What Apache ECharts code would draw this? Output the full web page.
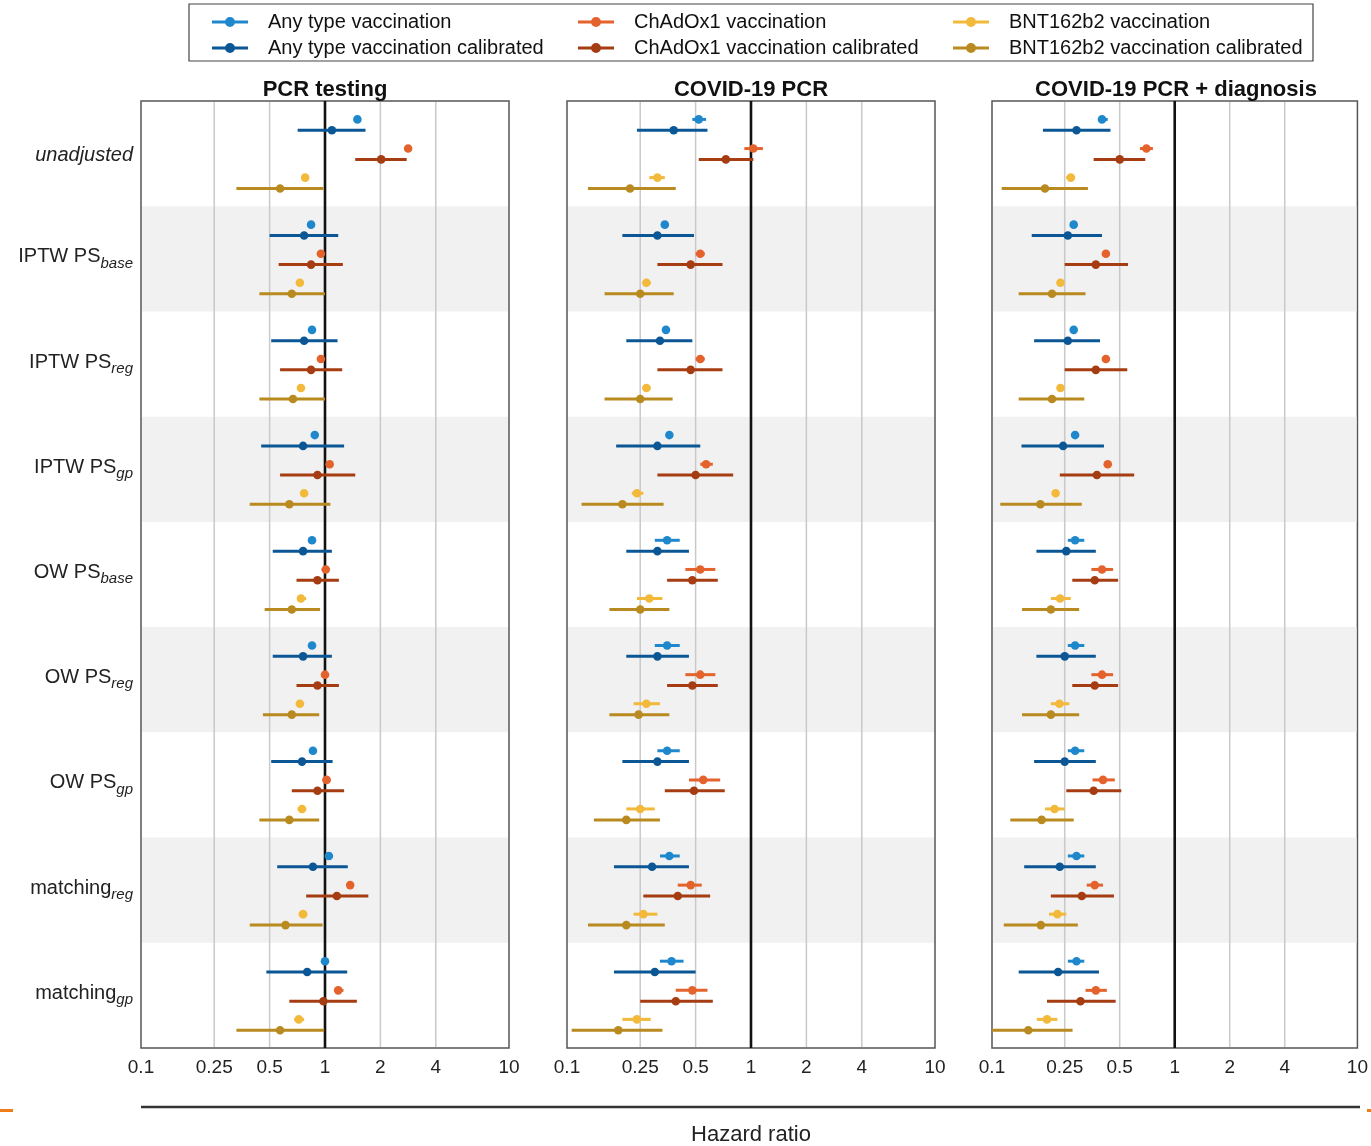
<!DOCTYPE html>
<html>
<head>
<meta charset="utf-8">
<script src="https://cdn.jsdelivr.net/npm/echarts@6/dist/echarts.min.js"></script>
<style>
  html, body { margin: 0; padding: 0; background: #fff; }
  #chart { width: 1371px; height: 1146px; }
</style>
</head>
<body>
<div id="chart"></div>
<script>
// Estimation methods (rows) — main text and italic subscript
const methodNames = ['unadjusted', 'IPTW PS', 'IPTW PS', 'IPTW PS', 'OW PS', 'OW PS', 'OW PS', 'matching', 'matching'];
const methodSubs  = ['', 'base', 'reg', 'gp', 'base', 'reg', 'gp', 'reg', 'gp'];

const panelTitles = ['PCR testing', 'COVID-19 PCR', 'COVID-19 PCR + diagnosis'];

const seriesNames = [
  'Any type vaccination', 'Any type vaccination calibrated',
  'ChAdOx1 vaccination', 'ChAdOx1 vaccination calibrated',
  'BNT162b2 vaccination', 'BNT162b2 vaccination calibrated'
];
const seriesColors = ['#1f88cc', '#0b5796', '#e4622c', '#a63c12', '#f2b93b', '#b98a1f'];

// Hazard-ratio axis
const tickValues = [0.1, 0.25, 0.5, 1, 2, 4, 10];
const tickLabels = ['0.1', '0.25', '0.5', '1', '2', '4', '10'];
const gridValues = [0.25, 0.5, 2, 4];
const refValue = 1;

// Hazard ratios as [estimate, lower CI, upper CI], one entry per method row
// Outcome: PCR testing
const pcrAny      = [[1.50,1.46,1.54],[0.84,0.82,0.86],[0.85,0.83,0.87],[0.88,0.86,0.90],[0.85,0.82,0.88],[0.85,0.82,0.88],[0.86,0.83,0.89],[1.05,1.02,1.08],[1.00,0.96,1.04]];
const pcrAnyCal   = [[1.09,0.71,1.66],[0.77,0.50,1.18],[0.77,0.51,1.17],[0.76,0.45,1.27],[0.76,0.52,1.09],[0.76,0.52,1.09],[0.75,0.51,1.10],[0.86,0.55,1.33],[0.80,0.48,1.32]];
const pcrChad     = [[2.83,2.76,2.90],[0.95,0.93,0.97],[0.95,0.93,0.97],[1.06,1.03,1.09],[1.01,0.96,1.06],[1.00,0.96,1.05],[1.02,0.97,1.07],[1.37,1.32,1.42],[1.18,1.12,1.26]];
const pcrChadCal  = [[2.02,1.46,2.78],[0.84,0.56,1.25],[0.84,0.57,1.24],[0.91,0.57,1.46],[0.91,0.70,1.19],[0.91,0.70,1.19],[0.91,0.66,1.27],[1.16,0.79,1.72],[0.98,0.64,1.49]];
const pcrBnt      = [[0.78,0.76,0.80],[0.73,0.71,0.75],[0.74,0.72,0.76],[0.77,0.75,0.79],[0.74,0.71,0.79],[0.73,0.70,0.77],[0.75,0.71,0.79],[0.76,0.72,0.80],[0.72,0.68,0.77]];
const pcrBntCal   = [[0.57,0.33,0.98],[0.66,0.44,1.00],[0.67,0.44,1.00],[0.64,0.39,1.07],[0.66,0.47,0.94],[0.66,0.46,0.93],[0.64,0.44,0.93],[0.61,0.39,0.97],[0.57,0.33,0.99]];

// Outcome: COVID-19 PCR
const covAny      = [[0.52,0.48,0.57],[0.34,0.33,0.355],[0.345,0.335,0.36],[0.36,0.345,0.375],[0.35,0.30,0.41],[0.35,0.30,0.41],[0.35,0.31,0.41],[0.36,0.32,0.41],[0.37,0.32,0.43]];
const covAnyCal   = [[0.38,0.24,0.58],[0.31,0.20,0.49],[0.32,0.21,0.48],[0.31,0.185,0.53],[0.31,0.21,0.46],[0.31,0.21,0.46],[0.31,0.20,0.46],[0.29,0.18,0.46],[0.30,0.18,0.50]];
const covChad     = [[1.03,0.92,1.16],[0.53,0.50,0.56],[0.53,0.50,0.56],[0.57,0.53,0.62],[0.53,0.44,0.64],[0.53,0.44,0.64],[0.55,0.46,0.68],[0.47,0.40,0.54],[0.48,0.39,0.58]];
const covChadCal  = [[0.73,0.52,1.03],[0.47,0.31,0.70],[0.47,0.31,0.70],[0.50,0.31,0.80],[0.48,0.35,0.66],[0.48,0.35,0.66],[0.49,0.34,0.72],[0.40,0.26,0.60],[0.39,0.25,0.62]];
const covBnt      = [[0.31,0.28,0.34],[0.27,0.26,0.285],[0.27,0.26,0.285],[0.24,0.225,0.26],[0.28,0.24,0.33],[0.27,0.23,0.32],[0.25,0.21,0.30],[0.26,0.23,0.31],[0.24,0.20,0.285]];
const covBntCal   = [[0.22,0.13,0.39],[0.25,0.16,0.38],[0.25,0.16,0.375],[0.20,0.12,0.335],[0.25,0.17,0.36],[0.245,0.17,0.36],[0.21,0.14,0.32],[0.21,0.13,0.34],[0.19,0.106,0.33]];

// Outcome: COVID-19 PCR + diagnosis
const diagAny     = [[0.40,0.38,0.43],[0.28,0.27,0.29],[0.28,0.27,0.29],[0.285,0.275,0.295],[0.285,0.26,0.32],[0.285,0.26,0.32],[0.285,0.26,0.32],[0.29,0.26,0.32],[0.29,0.26,0.32]];
const diagAnyCal  = [[0.29,0.19,0.445],[0.26,0.165,0.40],[0.26,0.17,0.39],[0.245,0.145,0.41],[0.255,0.175,0.37],[0.25,0.175,0.37],[0.25,0.17,0.37],[0.235,0.15,0.37],[0.23,0.14,0.385]];
const diagChad    = [[0.70,0.645,0.76],[0.42,0.405,0.44],[0.42,0.405,0.44],[0.43,0.415,0.45],[0.40,0.35,0.46],[0.40,0.35,0.46],[0.405,0.355,0.47],[0.365,0.33,0.405],[0.37,0.325,0.425]];
const diagChadCal = [[0.50,0.36,0.69],[0.37,0.25,0.555],[0.37,0.25,0.55],[0.375,0.235,0.60],[0.365,0.275,0.49],[0.365,0.275,0.49],[0.36,0.255,0.51],[0.31,0.21,0.465],[0.305,0.20,0.475]];
const diagBnt     = [[0.27,0.255,0.285],[0.237,0.228,0.246],[0.237,0.228,0.246],[0.223,0.215,0.232],[0.236,0.21,0.27],[0.234,0.21,0.265],[0.22,0.195,0.25],[0.228,0.205,0.255],[0.20,0.176,0.228]];
const diagBntCal  = [[0.195,0.113,0.335],[0.213,0.14,0.325],[0.213,0.14,0.32],[0.184,0.111,0.31],[0.21,0.146,0.30],[0.21,0.146,0.30],[0.187,0.126,0.28],[0.185,0.116,0.295],[0.158,0.10,0.276]];

const panelData = [
  [pcrAny, pcrAnyCal, pcrChad, pcrChadCal, pcrBnt, pcrBntCal],
  [covAny, covAnyCal, covChad, covChadCal, covBnt, covBntCal],
  [diagAny, diagAnyCal, diagChad, diagChadCal, diagBnt, diagBntCal]
];

// ---- layout ----
const FONT = '"Liberation Sans", Arial, Helvetica, sans-serif';
const panelLeft = [141, 567, 992];
const panelWidth = 368;
const plotTop = 101, plotHeight = 947;
// vertical offset of each series inside a method row (row units)
const rowOffsets = [-0.325, -0.222, -0.048, 0.055, 0.228, 0.332];

const chart = echarts.init(document.getElementById('chart'), null, { renderer: 'canvas' });

const grids = [], xAxes = [], yAxes = [], series = [];

panelLeft.forEach((left, p) => {
  grids.push({
    left: left, top: plotTop, width: panelWidth, height: plotHeight,
    show: true, borderColor: '#555', borderWidth: 1.5, backgroundColor: 'transparent',
    containLabel: false
  });
  xAxes.push({
    type: 'log', logBase: 10, min: 0.1, max: 10, gridIndex: p,
    axisLine: { show: false }, axisTick: { show: false }, splitLine: { show: false },
    minorTick: { show: false }, minorSplitLine: { show: false },
    axisLabel: {
      customValues: tickValues,
      formatter: (v) => {
        const i = tickValues.findIndex(t => Math.abs(t - v) < 1e-9);
        return i >= 0 ? tickLabels[i] : '';
      },
      fontSize: 19, color: '#222', fontFamily: FONT, margin: 10,
      showMinLabel: true, showMaxLabel: true
    }
  });
  yAxes.push({
    type: 'value', min: 0.5, max: 9.5, inverse: true, gridIndex: p,
    axisLine: { show: false }, axisTick: { show: false }, splitLine: { show: false },
    axisLabel: {
      show: p === 0,
      customValues: methodNames.map((_, i) => i + 1),
      margin: 8,
      formatter: (v) => {
        const i = Math.round(v) - 1;
        if (i < 0 || i >= methodNames.length) return '';
        return methodSubs[i] ? '{m|' + methodNames[i] + '}{s|' + methodSubs[i] + '}' : '{u|' + methodNames[i] + '}';
      },
      rich: {
        m: { fontSize: 20, fontFamily: FONT, color: '#222', lineHeight: 24, padding: [0, 0, 8, 0], verticalAlign: 'top' },
        s: { fontSize: 15, fontFamily: FONT, fontStyle: 'italic', color: '#222', lineHeight: 16, verticalAlign: 'bottom' },
        u: { fontSize: 20, fontFamily: FONT, fontStyle: 'italic', color: '#222', lineHeight: 24, padding: [4, 0, 0, 0] }
      }
    }
  });

  // alternating row shading
  series.push({
    type: 'custom', xAxisIndex: p, yAxisIndex: p, silent: true, z: 1,
    encode: { x: 0, y: 1 },
    data: methodNames.map((_, i) => [1, i + 1]).filter(d => d[1] % 2 === 0),
    renderItem: (params, api) => {
      const cs = params.coordSys;
      const r = api.value(1);
      const y1 = api.coord([1, r - 0.5])[1];
      const y2 = api.coord([1, r + 0.5])[1];
      return {
        type: 'rect',
        shape: { x: cs.x + 1, y: y1, width: cs.width - 2, height: y2 - y1 },
        style: { fill: '#f1f1f1' }
      };
    }
  });

  // vertical reference grid lines
  series.push({
    type: 'custom', xAxisIndex: p, yAxisIndex: p, silent: true, z: 2,
    encode: { x: 0, y: 1 },
    data: gridValues.map(v => [v, 5]),
    renderItem: (params, api) => {
      const cs = params.coordSys;
      const x = api.coord([api.value(0), 5])[0];
      return {
        type: 'line',
        shape: { x1: x, y1: cs.y + 1, x2: x, y2: cs.y + cs.height - 1 },
        style: { stroke: '#c9c9c9', lineWidth: 1.5 }
      };
    }
  });

  // null-effect line at HR = 1
  series.push({
    type: 'custom', xAxisIndex: p, yAxisIndex: p, silent: true, z: 3,
    encode: { x: 0, y: 1 },
    data: [[refValue, 5]],
    renderItem: (params, api) => {
      const cs = params.coordSys;
      const x = api.coord([api.value(0), 5])[0];
      return {
        type: 'line',
        shape: { x1: x, y1: cs.y, x2: x, y2: cs.y + cs.height },
        style: { stroke: '#111', lineWidth: 2.6 }
      };
    }
  });

  // estimates with confidence intervals
  panelData[p].forEach((values, s) => {
    const off = rowOffsets[s];
    series.push({
      type: 'custom', name: seriesNames[s], xAxisIndex: p, yAxisIndex: p, z: 5,
      itemStyle: { color: seriesColors[s] },
      encode: { x: [1, 2, 3], y: 0 },
      data: values.map((v, i) => [i + 1, v[0], v[1], v[2]]),
      renderItem: (params, api) => {
        const y = api.value(0) + off;
        const pe = api.coord([api.value(1), y]);
        const pl = api.coord([api.value(2), y]);
        const ph = api.coord([api.value(3), y]);
        const color = api.visual('color');
        return {
          type: 'group',
          children: [
            { type: 'line', shape: { x1: pl[0], y1: pl[1], x2: ph[0], y2: ph[1] }, style: { stroke: color, lineWidth: 3 } },
            { type: 'circle', shape: { cx: pe[0], cy: pe[1], r: 4.3 }, style: { fill: color } }
          ]
        };
      }
    });
  });
});

// legend: three columns of two entries
const legendIcon = 'path://M0,3.5H36V6.5H0Z M13,5A5,5 0 1,1 23,5A5,5 0 1,1 13,5Z';
const legendCols = [212, 578, 953];
const legends = legendCols.map((left, c) => ({
  orient: 'vertical', left: left, top: 12, padding: 0, itemGap: 6,
  itemWidth: 36, itemHeight: 10, symbolKeepAspect: false, selectedMode: false,
  data: [seriesNames[2 * c], seriesNames[2 * c + 1]].map(n => ({ name: n, icon: legendIcon })),
  textStyle: { fontSize: 20, fontFamily: FONT, color: '#111', padding: [0, 0, 0, 15] }
}));

const graphics = [
  { type: 'rect', shape: { x: 189, y: 4, width: 1124, height: 57 }, style: { fill: 'none', stroke: '#444', lineWidth: 1.2 }, silent: true },
  { type: 'line', shape: { x1: 141, y1: 1107, x2: 1360, y2: 1107 }, style: { stroke: '#333', lineWidth: 2.5 }, silent: true },
  { type: 'text', x: 751, y: 1135, style: { text: 'Hazard ratio', fontSize: 22, fontFamily: FONT, fill: '#222', textAlign: 'center', textVerticalAlign: 'middle' }, silent: true },
  { type: 'rect', shape: { x: 0, y: 1109, width: 13, height: 3 }, style: { fill: '#f07d1a' }, silent: true },
  { type: 'rect', shape: { x: 1367, y: 1109, width: 4, height: 3 }, style: { fill: '#f07d1a' }, silent: true }
];
panelTitles.forEach((t, p) => {
  graphics.push({
    type: 'text', x: panelLeft[p] + panelWidth / 2, y: 90,
    style: { text: t, fontSize: 22, fontWeight: 'bold', fontFamily: FONT, fill: '#111', textAlign: 'center', textVerticalAlign: 'middle' },
    silent: true
  });
});

chart.setOption({
  animation: false,
  backgroundColor: '#fff',
  grid: grids,
  xAxis: xAxes,
  yAxis: yAxes,
  legend: legends,
  graphic: graphics,
  series: series
});
</script>
</body>
</html>
